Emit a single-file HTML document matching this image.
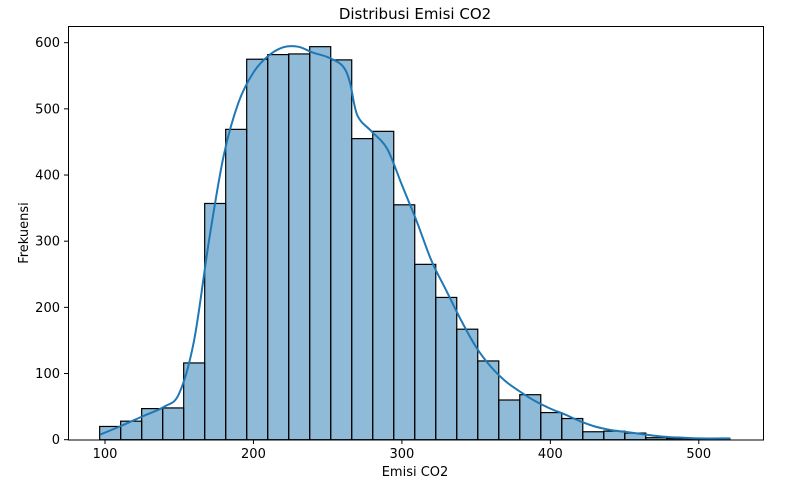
<!DOCTYPE html>
<html><head><meta charset="utf-8"><style>
body{margin:0;background:#fff;font-family:"Liberation Sans","DejaVu Sans",sans-serif;}
svg text{font-family:"DejaVu Sans","Liberation Sans",sans-serif;}
</style></head><body>
<svg id="chart" width="798" height="483" xmlns="http://www.w3.org/2000/svg">
<rect x="0" y="0" width="798" height="483" fill="#fff"/>
<text x="415" y="19" text-anchor="middle" font-size="15">Distribusi Emisi CO2</text>
<g id="bars"></g>
<path id="kde" fill="none" stroke="#1f77b4" stroke-width="2"/>
<rect x="68.5" y="26.5" width="695" height="413.5" fill="none" stroke="#000" stroke-width="1"/>
<g id="xt"></g>
<g id="yt"></g>
<text x="415" y="476" text-anchor="middle" font-size="13">Emisi CO2</text>
<text transform="translate(28,233) rotate(-90)" text-anchor="middle" font-size="13">Frekuensi</text>
</svg>
<script>
const binStart = 96.4;
const binWidth = 14.15;
const counts = [20,28,47,48,116,357,469,575,582,583,594,574,455,466,355,265,215,167,119,60,68,41,32,12,13,10,3,2,1,2];
const kdeX = [97,110,125,140,150,160,170,180,190,200,210,220,230,240,250,260,265,270,280,290,300,310,320,330,340,350,360,370,380,390,400,410,420,430,440,450,460,470,480,490,500,521];
const kdeY = [8,20,35,50,70,150,300,430,510,555,580,593,594,585,578,565,540,490,465,440,385,330,270,225,180,140,110,88,72,58,47,38,28,20,15,12,9,6,4,3,2,2];
const xTicks = [100,200,300,400,500];
const yTicks = [0,100,200,300,400,500,600];
const NS="http://www.w3.org/2000/svg";
function sx(v){return 105+(v-100)*1.4845;}
function sy(v){return 439.7-v*0.6617;}
const bars=document.getElementById('bars');
counts.forEach((c,i)=>{
  const r=document.createElementNS(NS,'rect');
  
  
  const x0=sx(binStart+i*binWidth), x1=sx(binStart+(i+1)*binWidth);
  r.setAttribute('x',x0);r.setAttribute('y',sy(c));
  r.setAttribute('width',x1-x0);r.setAttribute('height',sy(0)-sy(c));
  r.setAttribute('fill','rgba(31,119,180,0.5)');r.setAttribute('stroke','#000');r.setAttribute('stroke-width','1.2');
  bars.appendChild(r);
});
const pts=kdeX.map((x,i)=>[sx(x),sy(kdeY[i])]);
let d='M'+pts[0][0].toFixed(1)+','+pts[0][1].toFixed(1);
for(let i=0;i<pts.length-1;i++){
  const p0=pts[Math.max(0,i-1)],p1=pts[i],p2=pts[i+1],p3=pts[Math.min(pts.length-1,i+2)];
  const c1=[p1[0]+(p2[0]-p0[0])/6,p1[1]+(p2[1]-p0[1])/6];
  const c2=[p2[0]-(p3[0]-p1[0])/6,p2[1]-(p3[1]-p1[1])/6];
  d+=' C'+c1[0].toFixed(1)+','+c1[1].toFixed(1)+' '+c2[0].toFixed(1)+','+c2[1].toFixed(1)+' '+p2[0].toFixed(1)+','+p2[1].toFixed(1);
}
document.getElementById('kde').setAttribute('d',d);
const xt=document.getElementById('xt');
xTicks.forEach(t=>{
  const l=document.createElementNS(NS,'line');
  
  
  l.setAttribute('x1',sx(t));l.setAttribute('x2',sx(t));l.setAttribute('y1',440);l.setAttribute('y2',444);l.setAttribute('stroke','#000');
  xt.appendChild(l);
  const tx=document.createElementNS(NS,'text');
  
  
  tx.setAttribute('x',sx(t));tx.setAttribute('y',458);tx.setAttribute('text-anchor','middle');tx.setAttribute('font-size','13');
  tx.textContent=t;xt.appendChild(tx);
});
const yt=document.getElementById('yt');
yTicks.forEach(t=>{
  const l=document.createElementNS(NS,'line');
  
  
  l.setAttribute('x1',64);l.setAttribute('x2',68.5);l.setAttribute('y1',sy(t));l.setAttribute('y2',sy(t));l.setAttribute('stroke','#000');
  yt.appendChild(l);
  const tx=document.createElementNS(NS,'text');
  
  
  tx.setAttribute('x',60);tx.setAttribute('y',sy(t)+4.5);tx.setAttribute('text-anchor','end');tx.setAttribute('font-size','13');
  tx.textContent=t;yt.appendChild(tx);
});
</script>
</body></html>
